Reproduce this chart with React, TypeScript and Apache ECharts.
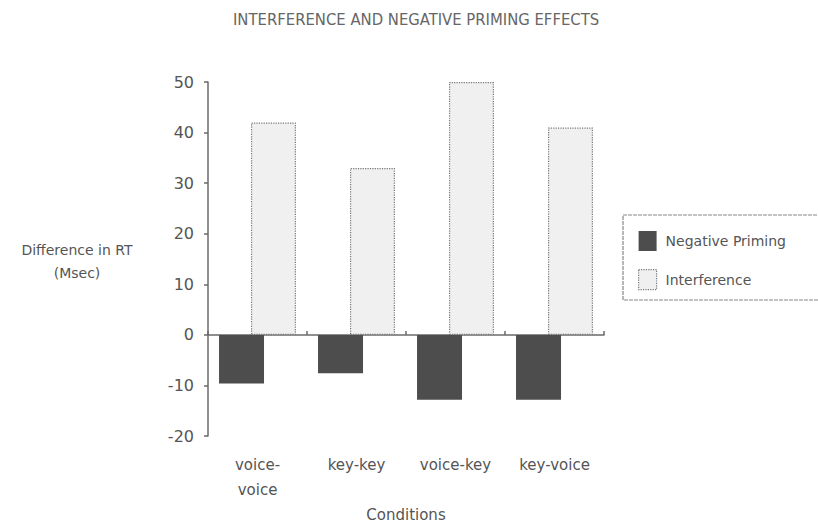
import React, { useEffect, useRef } from "react";
import * as echarts from "echarts";

const categories = ["voice-\nvoice", "key-key", "voice-key", "key-voice"];
const negativePriming = [-9.6, -7.6, -12.8, -12.8];
const interference = [42, 33, 50, 41];
const yTicks = { min: -20, max: 50, interval: 10 };
const titleText = "INTERFERENCE AND NEGATIVE PRIMING EFFECTS";
const yName = ["Difference in RT", "(Msec)"];
const xName = "Conditions";

const TXT = "#555";
const AX = "#6a6a6a";
const FONT = "DejaVu Sans, sans-serif";

export default function App() {
  const ref = useRef<HTMLDivElement>(null);
  useEffect(() => {
    if (!ref.current) return;
    const chart = echarts.init(ref.current, null, { renderer: "svg" });
    chart.setOption({
      animation: false,
      backgroundColor: "#fff",
      title: {
        text: titleText,
        left: 228,
        top: 6,
        textStyle: { fontFamily: "DejaVu Sans Condensed, DejaVu Sans, sans-serif", fontSize: 16.5, fontWeight: "normal", color: "#666" },
      },
      grid: { left: 208, right: 214, top: 82, bottom: 80 },
      legend: {
        orient: "vertical",
        left: 633,
        top: 226,
        icon: "rect",
        itemWidth: 18,
        itemHeight: 20,
        itemGap: 18,
        textStyle: { fontFamily: FONT, fontSize: 14, color: TXT, padding: [0, 0, 0, 4] },
        data: [
          { name: "Negative Priming", itemStyle: { color: "#4d4d4d", borderWidth: 0 } },
          { name: "Interference", itemStyle: { color: "#f0f0f0", borderColor: "#777", borderWidth: 1.2, borderType: "dotted" } },
        ],
      },
      graphic: [
        {
          type: "rect",
          shape: { x: 623, y: 215, width: 220, height: 85 },
          style: { fill: "none", stroke: "#888", lineWidth: 1.2, lineDash: [4, 1] },
        },
        {
          type: "text",
          style: { x: 77, y: 250, text: yName[0], fill: TXT, font: `14px ${FONT}`, textAlign: "center", textVerticalAlign: "middle" },
        },
        {
          type: "text",
          style: { x: 77, y: 273, text: yName[1], fill: TXT, font: `14px ${FONT}`, textAlign: "center", textVerticalAlign: "middle" },
        },
      ],
      xAxis: [
        {
          type: "category",
          data: categories,
          position: "bottom",
          axisLine: { show: false, onZero: false },
          axisTick: { show: false },
          axisLabel: { fontFamily: FONT, fontSize: 15, color: TXT, margin: 16, lineHeight: 25, interval: 0 },
          name: xName,
          nameLocation: "middle",
          nameGap: 66,
          nameTextStyle: { fontFamily: FONT, fontSize: 15, color: TXT },
        },
        {
          type: "category",
          data: categories,
          position: "top",
          axisLine: { show: true, onZero: true, onZeroAxisIndex: 0, lineStyle: { color: AX, width: 1.5 } },
          axisTick: { show: true, length: 4, inside: false, lineStyle: { color: AX, width: 1.5 } },
          axisLabel: { show: false },
        },
      ],
      yAxis: {
        type: "value",
        min: yTicks.min,
        max: yTicks.max,
        interval: yTicks.interval,
        splitLine: { show: false },
        axisLine: { show: true, lineStyle: { color: AX, width: 1.5 } },
        axisTick: { show: true, length: 4, lineStyle: { color: AX, width: 1.5 } },
        axisLabel: { fontFamily: FONT, fontSize: 16, color: TXT, margin: 14 },
      },
      series: [
        {
          name: "Negative Priming",
          type: "bar",
          xAxisIndex: 0,
          data: negativePriming,
          barWidth: 45,
          barGap: "-29%",
          itemStyle: { color: "#4d4d4d" },
        },
        {
          name: "Interference",
          type: "bar",
          xAxisIndex: 0,
          data: interference,
          barWidth: 45,
          barGap: "-29%",
          itemStyle: { color: "#f0f0f0", borderColor: "#777", borderWidth: 1.2, borderType: "dotted" },
        },
      ],
    });
    return () => chart.dispose();
  }, []);
  return <div ref={ref} style={{ width: 818, height: 527, position: "absolute", left: 0, top: 0 }} />;
}
